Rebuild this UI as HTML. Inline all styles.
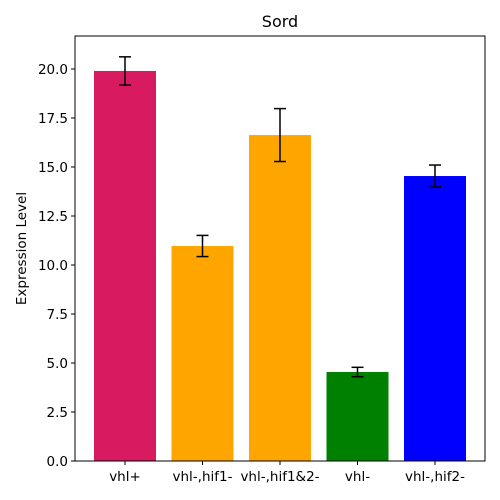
<!DOCTYPE html>
<html><head><meta charset="utf-8"><style>body{margin:0;background:#fff}svg{display:block;font-family:"DejaVu Sans","Liberation Sans",sans-serif}</style></head>
<body>
<svg id="c" width="500" height="500"></svg>
<script>
const categories=["vhl+","vhl-,hif1-","vhl-,hif1&2-","vhl-","vhl-,hif2-"];
const values=[19.9,10.97,16.63,4.54,14.54];
const errors=[0.72,0.54,1.35,0.24,0.56];
const colors=["#d81b60","#ffa500","#ffa500","#008000","#0000ff"];
const yTicks=[0,2.5,5,7.5,10,12.5,15,17.5,20];
const NS="http://www.w3.org/2000/svg";
const svg=document.getElementById('c');
const L=75,R=485,T=36,B=461;
const y=v=>B-v*19.6;
const x=i=>125+i*77.5;
const bw=62;
function el(t,a,p){const e=document.createElementNS(NS,t);for(const k in a)e.setAttribute(k,a[k]);(p||svg).appendChild(e);return e;}
const title=el('text',{x:280,y:27,'text-anchor':'middle','font-size':16});title.textContent="Sord";


values.forEach((v,i)=>{
 const b=el('rect',{x:x(i)-bw/2,y:y(v),width:bw,height:B-y(v),fill:colors[i]});
 
 
 const g=el('g',{stroke:'#000','stroke-width':1.5});
 
 
 el('line',{x1:x(i),x2:x(i),y1:y(v-errors[i]),y2:y(v+errors[i])},g);
 el('line',{x1:x(i)-6,x2:x(i)+6,y1:y(v-errors[i]),y2:y(v-errors[i])},g);
 el('line',{x1:x(i)-6,x2:x(i)+6,y1:y(v+errors[i]),y2:y(v+errors[i])},g);
 el('line',{x1:x(i),x2:x(i),y1:B,y2:B+4,stroke:'#000'});
 const t=el('text',{x:x(i),y:B+20,'text-anchor':'middle','font-size':13.5});t.textContent=categories[i];
 
 
});
yTicks.forEach(v=>{
 el('line',{x1:L-4,x2:L,y1:y(v),y2:y(v),stroke:'#000'});
 const t=el('text',{x:L-7,y:y(v)+5,'text-anchor':'end','font-size':13.5});t.textContent=v.toFixed(1);
 
 
});
const ax=el('rect',{x:L,y:T,width:R-L,height:B-T,fill:'none',stroke:'#000','stroke-width':1});


const yl=el('text',{x:0,y:0,transform:`translate(26,${(T+B)/2}) rotate(-90)`,'text-anchor':'middle','font-size':13.5});yl.textContent="Expression Level";


</script>
</body></html>
